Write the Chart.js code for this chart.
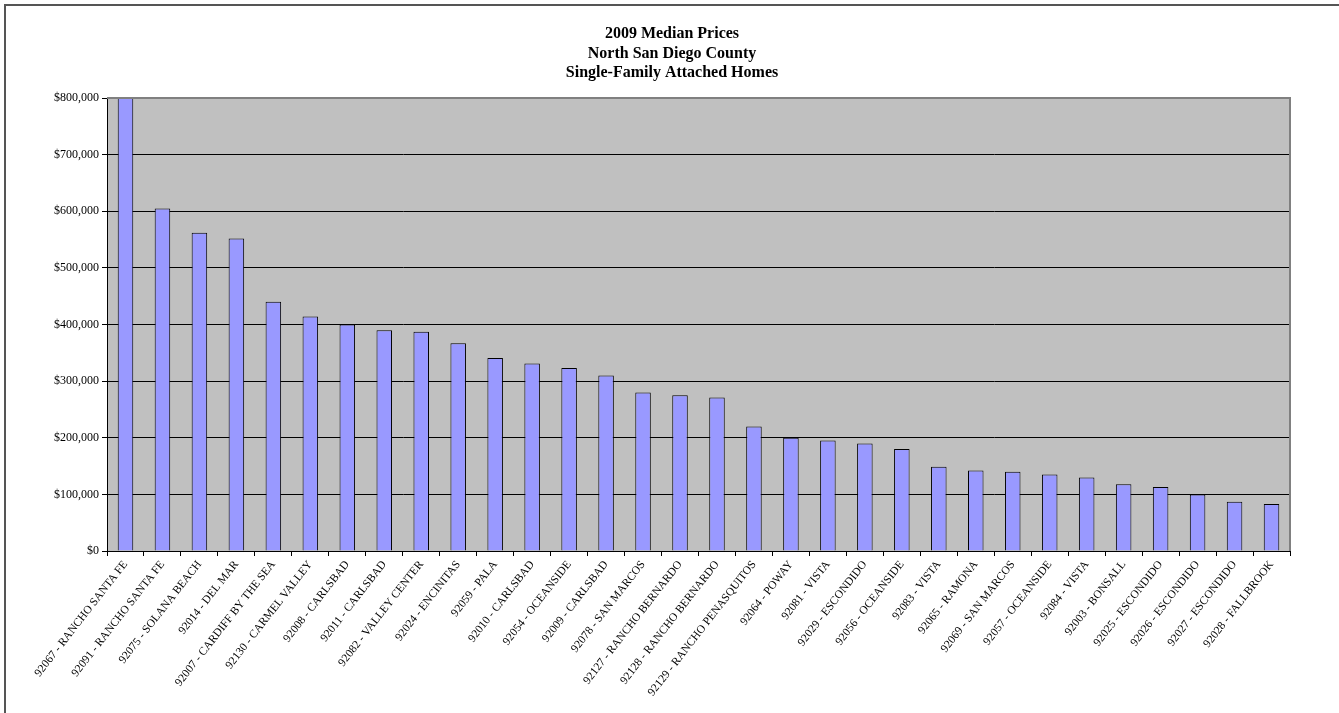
<!DOCTYPE html>
<html>
<head>
<meta charset="utf-8">
<title>2009 Median Prices - North San Diego County</title>
<script src="https://cdn.jsdelivr.net/npm/chart.js@4/dist/chart.umd.min.js"></script>
<style>
  html, body { margin: 0; padding: 0; background: #fff; }
  #wrap { width: 1339px; height: 713px; }
</style>
</head>
<body>
<div id="wrap"><canvas id="priceChart" width="1339" height="713"></canvas></div>
<script>
// zip code - area, sorted by median price
const zipAreas = [
    '92067 - RANCHO SANTA FE', '92091 - RANCHO SANTA FE', '92075 - SOLANA BEACH',
    '92014 - DEL MAR', '92007 - CARDIFF BY THE SEA', '92130 - CARMEL VALLEY',
    '92008 - CARLSBAD', '92011 - CARLSBAD', '92082 - VALLEY CENTER',
    '92024 - ENCINITAS', '92059 - PALA', '92010 - CARLSBAD',
    '92054 - OCEANSIDE', '92009 - CARLSBAD', '92078 - SAN MARCOS',
    '92127 - RANCHO BERNARDO', '92128 - RANCHO BERNARDO', '92129 - RANCHO PENASQUITOS',
    '92064 - POWAY', '92081 - VISTA', '92029 - ESCONDIDO',
    '92056 - OCEANSIDE', '92083 - VISTA', '92065 - RAMONA',
    '92069 - SAN MARCOS', '92057 - OCEANSIDE', '92084 - VISTA',
    '92003 - BONSALL', '92025 - ESCONDIDO', '92026 - ESCONDIDO',
    '92027 - ESCONDIDO', '92028 - FALLBROOK'
];

const medianPrices = [
    800000, 605000, 562000, 552000, 440000, 414000,
    400000, 390000, 387000, 367000, 341000, 331000,
    323000, 310000, 280000, 275000, 271000, 220000,
    200000, 195000, 190000, 180000, 149000, 142000,
    140000, 135000, 130000, 118000, 113000, 100000,
    87000, 83000
];

const titleLines = ['2009 Median Prices', 'North San Diego County', 'Single-Family Attached Homes'];

const yMin = 0, yMax = 800000, yStep = 100000;

const serif = '"Liberation Serif", "Times New Roman", Times, serif';

const money = v => '$' + v.toLocaleString('en-US');

// grey plot background, frame and the title block
const frame = {
    id: 'frame',
    beforeDraw(chart) {
        const { ctx, chartArea: a } = chart;
        ctx.save();
        ctx.fillStyle = '#c0c0c0';
        ctx.fillRect(a.left, a.top, a.right - a.left, a.bottom - a.top);

        // outer chart border (top and left edges)
        ctx.strokeStyle = '#555';
        ctx.lineWidth = 2;
        ctx.beginPath();
        ctx.moveTo(chart.width, 5);
        ctx.lineTo(5, 5);
        ctx.lineTo(5, chart.height);
        ctx.stroke();
        ctx.restore();
    },
    afterDraw(chart) {
        const { ctx, chartArea: a } = chart;
        ctx.save();
        ctx.strokeStyle = '#808080';
        ctx.lineWidth = 2;
        ctx.beginPath();
        ctx.moveTo(a.left, a.top);
        ctx.lineTo(a.right, a.top);
        ctx.lineTo(a.right, a.bottom);
        ctx.stroke();

        ctx.fillStyle = '#000';
        ctx.font = 'bold 16px ' + serif;
        ctx.textAlign = 'center';
        ctx.textBaseline = 'middle';
        titleLines.forEach((t, i) => ctx.fillText(t, 672, 34 + i * 19.5));
        ctx.restore();
    }
};

new Chart(document.getElementById('priceChart'), {
    type: 'bar',
    data: {
        labels: zipAreas,
        datasets: [{
            label: 'Median Price',
            data: medianPrices,
            backgroundColor: '#9999ff',
            borderColor: '#000',
            borderWidth: 1,
            barPercentage: 0.42,
            categoryPercentage: 1
        }]
    },
    options: {
        responsive: false,
        animation: false,
        layout: { padding: { top: 98, right: 49, left: 0, bottom: 0 } },
        plugins: {
            legend: { display: false },
            tooltip: { enabled: false },
            title: { display: false }
        },
        scales: {
            x: {
                afterFit: s => { s.height = 162; },
                border: { color: '#000', width: 1 },
                grid: { drawOnChartArea: false, color: '#000', tickLength: 5, offset: true },
                ticks: {
                    autoSkip: false,
                    minRotation: 52,
                    maxRotation: 52,
                    padding: 2,
                    color: '#000',
                    font: { family: serif, size: 11.5 }
                }
            },
            y: {
                min: yMin,
                max: yMax,
                afterFit: s => { s.width = 107; },
                border: { color: '#000', width: 1 },
                grid: { color: '#000', tickLength: 5 },
                ticks: {
                    stepSize: yStep,
                    padding: 3,
                    color: '#000',
                    font: { family: serif, size: 12 },
                    callback: v => money(v)
                }
            }
        }
    },
    plugins: [frame]
});
</script>
</body>
</html>
